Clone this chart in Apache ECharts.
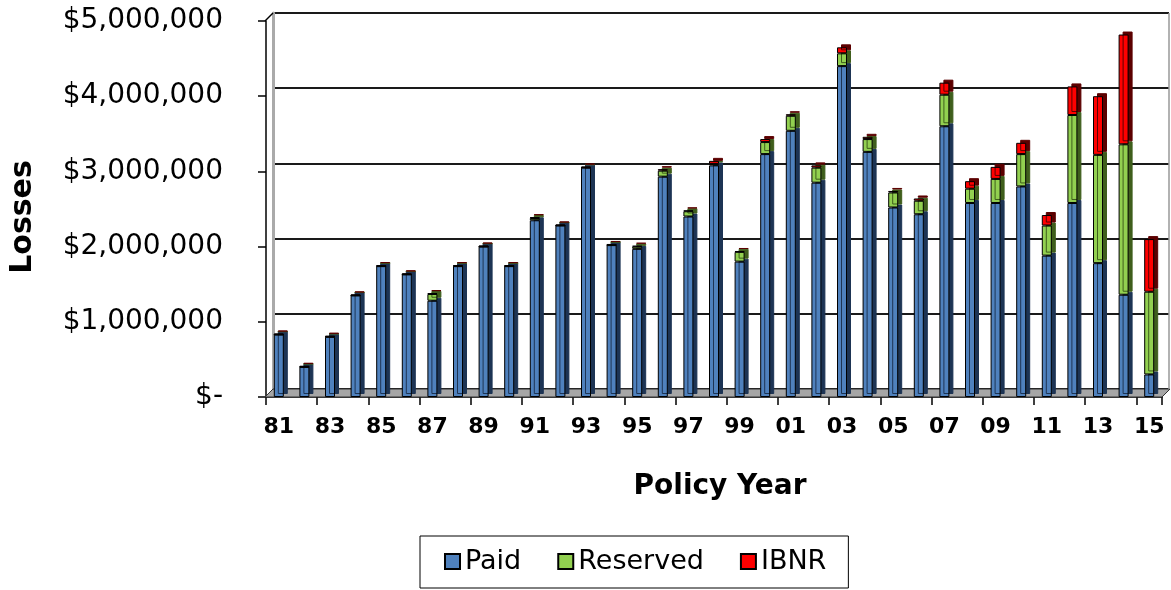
<!DOCTYPE html>
<html>
<head>
<meta charset="utf-8">
<script src="https://cdn.jsdelivr.net/npm/echarts@6/dist/echarts.min.js"></script>
<style>
  html, body { margin: 0; padding: 0; background: #fff; }
  #main { width: 1171px; height: 590px; }
</style>
</head>
<body>
<div id="main"></div>
<script>
// policy years 1981 - 2015
var years = ['81', '82', '83', '84', '85', '86', '87', '88', '89', '90',
    '91', '92', '93', '94', '95', '96', '97', '98', '99', '00',
    '01', '02', '03', '04', '05', '06', '07', '08', '09', '10',
    '11', '12', '13', '14', '15'];

// losses, dollars
var paid = [830000, 400000, 800000, 1350000, 1740000, 1630000, 1280000, 1740000, 2000000, 1740000,
    2350000, 2280000, 3050000, 2020000, 1970000, 2930000, 2400000, 3080000, 1800000, 3230000,
    3540000, 2850000, 4400000, 3260000, 2520000, 2430000, 3600000, 2580000, 2580000, 2800000,
    1880000, 2580000, 1780000, 1360000, 300000];
var reserved = [0, 0, 0, 0, 0, 0, 90000, 0, 0, 0,
    30000, 0, 0, 0, 30000, 80000, 70000, 20000, 130000, 160000,
    200000, 200000, 170000, 170000, 200000, 180000, 420000, 190000, 320000, 430000,
    400000, 1170000, 1440000, 2000000, 1100000];
var ibnr = [15000, 15000, 15000, 15000, 15000, 15000, 10000, 15000, 15000, 15000,
    10000, 15000, 15000, 15000, 10000, 20000, 10000, 40000, 10000, 40000,
    20000, 30000, 80000, 30000, 20000, 30000, 160000, 100000, 160000, 150000,
    140000, 380000, 780000, 1460000, 700000];

var yMax = 5000000;
var yStep = 1000000;

var chart = echarts.init(document.getElementById('main'));

function money(v) {
    if (v === 0) return '$-';
    return '$' + v.toLocaleString('en-US');
}

function barStyle(color, side) {
    return {
        color: color,
        borderColor: '#000',
        borderWidth: 1,
        shadowColor: side,
        shadowBlur: 0,
        shadowOffsetX: 4,
        shadowOffsetY: -3
    };
}

var font = 'DejaVu Sans';

var option = {
    animation: false,
    backgroundColor: '#fff',
    grid: [
        // back wall of the 3d chart
        {left: 273, right: 2, top: 13, bottom: 201},
        // front plane, holds the bars
        {left: 262, right: 9, top: 21, bottom: 193}
    ],
    legend: {
        data: ['Paid', 'Reserved', 'IBNR'],
        left: 420,
        top: 536,
        padding: [12, 22, 13, 24],
        itemGap: 36,
        itemWidth: 15,
        itemHeight: 15,
        icon: 'rect',
        borderColor: '#000',
        borderWidth: 1,
        borderRadius: 0,
        textStyle: {fontFamily: font, fontSize: 27, color: '#000'},
        itemStyle: {borderColor: '#000', borderWidth: 2, shadowColor: 'transparent'}
    },
    xAxis: [
        {
            gridIndex: 0, type: 'category', data: years,
            axisLine: {show: false}, axisTick: {show: false}, axisLabel: {show: false}
        },
        {
            gridIndex: 1, type: 'category', data: years,
            axisLine: {lineStyle: {color: '#000', width: 1.5}},
            axisTick: {show: true, length: 8, lineStyle: {color: '#000', width: 1.5}},
            axisLabel: {interval: 1, margin: 19, color: '#000', fontFamily: font, fontWeight: 'bold', fontSize: 22},
            name: 'Policy Year',
            nameLocation: 'middle',
            nameGap: 76,
            nameTextStyle: {fontFamily: font, fontWeight: 'bold', fontSize: 28, color: '#000', padding: [0, 0, 0, 12]}
        }
    ],
    yAxis: [
        {
            gridIndex: 0, type: 'value', min: 0, max: yMax, interval: yStep,
            axisLine: {show: true, lineStyle: {color: '#aaa', width: 3}},
            axisTick: {show: false}, axisLabel: {show: false},
            splitLine: {show: true, lineStyle: {color: '#1a1a1a', width: 2}}
        },
        {
            gridIndex: 1, type: 'value', min: 0, max: yMax, interval: yStep,
            axisLine: {show: true, lineStyle: {color: '#000', width: 1.5}},
            axisTick: {show: true, length: 8, lineStyle: {color: '#000', width: 1.5}},
            splitLine: {show: false},
            axisLabel: {margin: 43, color: '#000', fontFamily: font, fontSize: 28, formatter: money},
            name: 'Losses',
            nameLocation: 'middle',
            nameRotate: 90,
            nameGap: 228,
            nameTextStyle: {fontFamily: font, fontWeight: 'bold', fontSize: 30, color: '#000', padding: [0, 16, 0, 0]}
        }
    ],
    graphic: [
        // floor of the 3d chart
        {
            type: 'polygon', z: 1,
            shape: {points: [[265, 397], [1162, 397], [1170, 389], [273, 389]]},
            style: {fill: '#a6a6a6', stroke: '#333', lineWidth: 1}
        },
        {
            type: 'line', z: 1,
            shape: {x1: 265, y1: 21, x2: 273, y2: 13},
            style: {stroke: '#000', lineWidth: 1.5}
        },
        {
            type: 'line', z: 1,
            shape: {x1: 1169, y1: 13, x2: 1169, y2: 389},
            style: {stroke: '#999', lineWidth: 1.5}
        }
    ],
    series: [
        {
            name: 'Paid', type: 'bar', stack: 'loss', xAxisIndex: 1, yAxisIndex: 1,
            barWidth: 10, data: paid, itemStyle: barStyle('#4f81bd', '#1d3454')
        },
        {
            name: 'Reserved', type: 'bar', stack: 'loss', xAxisIndex: 1, yAxisIndex: 1,
            barWidth: 10, data: reserved, itemStyle: barStyle('#92d050', '#3f5e1c')
        },
        {
            name: 'IBNR', type: 'bar', stack: 'loss', xAxisIndex: 1, yAxisIndex: 1,
            barWidth: 10, data: ibnr, itemStyle: barStyle('#ff0000', '#5c0000')
        }
    ]
};

chart.setOption(option);
</script>
</body>
</html>
